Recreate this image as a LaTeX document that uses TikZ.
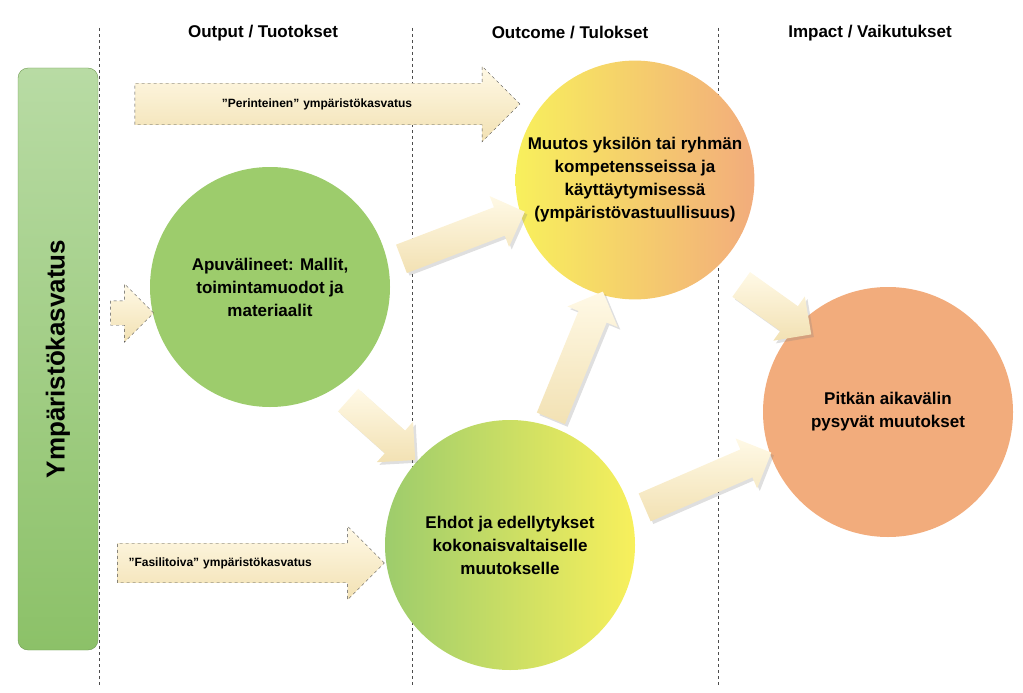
\documentclass[tikz,border=0pt]{standalone}
\usepackage{fontspec}
\setmainfont{Liberation Sans}
\usetikzlibrary{shapes.arrows,shadows}
\definecolor{barTop}{HTML}{B8DBA4}
\definecolor{barBot}{HTML}{8CC168}
\definecolor{creamA}{HTML}{FFF9E6}
\definecolor{creamB}{HTML}{F2E1B3}
\definecolor{leafGreen}{HTML}{9DCC6C}
\definecolor{sunYellow}{HTML}{F8F05C}
\definecolor{peach}{HTML}{F2AC7C}
\tikzset{
  header/.style={font=\bfseries\fontsize{17}{19}\selectfont},
  bubble/.style={circle, align=center, font=\bfseries\fontsize{17}{23}\selectfont},
  fatarrow/.style={single arrow, single arrow head extend=12pt, inner xsep=0pt, inner ysep=15pt,
    top color=creamA, bottom color=creamB, draw=none, drop shadow={opacity=0.25}},
  dasharrow/.style={single arrow, draw=black!70, dashed, single arrow head extend=17pt,
    top color=creamA, bottom color=creamB, inner ysep=14pt, font=\bfseries\fontsize{12}{14}\selectfont},
  divider/.style={dashed, black!70}
}
\begin{document}
\begin{tikzpicture}[x=1pt,y=-1pt]
\useasboundingbox (0,0) rectangle (1023,693);

% Dividers
\foreach \xpos in {99,412,718}
{
\draw[divider] (\xpos,28) -- (\xpos,686);
}

% Headers
\node[header] (hOut) at (263,33) {Output / Tuotokset};
\node[header] (hOutc) at (570,33) {Outcome / Tulokset};
\node[header] (hImp) at (870,33) {Impact / Vaikutukset};

% Left bar
\node[draw=barBot!80!black, rounded corners=10pt, minimum width=80pt, minimum height=582pt,
  top color=barTop, bottom color=barBot] (bar) at (58,359) {};
\node[rotate=90, font=\bfseries\fontsize{26}{28}\selectfont] (barText) at (bar.center) {Ympäristökasvatus};

% Circles
\node[bubble, minimum size=240pt, fill=leafGreen] (tools) at (270,287)
  {Apuvälineet: Mallit,\\ toimintamuodot ja\\ materiaalit};
\node[bubble, minimum size=230pt, left color=sunYellow, right color=peach] (change) at (635,180)
  {Muutos yksilön tai ryhmän\\ kompetensseissa ja\\ käyttäytymisessä\\ (ympäristövastuullisuus)};
\node[bubble, minimum size=250pt, left color=leafGreen, right color=sunYellow] (cond) at (510,545)
  {Ehdot ja edellytykset\\ kokonaisvaltaiselle\\ muutokselle};
\node[bubble, minimum size=250pt, fill=peach] (lasting) at (888,412)
  {Pitkän aikavälin\\ pysyvät muutokset};

% Dashed arrows
\node[dasharrow, minimum height=385pt, text width=340pt, align=center, inner ysep=15pt] (trad) at (317,104)
  {”Perinteinen” ympäristökasvatus};
\node[dasharrow, minimum height=267pt, text width=225pt, align=left] (facil) at (241,563)
  {”Fasilitoiva” ympäristökasvatus};
\node[dasharrow, minimum height=43pt, inner ysep=12pt, inner xsep=0pt] (small) at (126,313) {};

% Fat arrows
\node[fatarrow, minimum height=132pt, rotate=20.9] (a1) at (456,238) {};
\node[fatarrow, minimum height=90pt, rotate=-41.8] (a2) at (376,425) {};
\node[fatarrow, minimum height=137pt, rotate=67.7] (a3) at (574,362) {};
\node[fatarrow, minimum height=86pt, rotate=-35.5] (a4) at (770,305) {};
\node[fatarrow, minimum height=138pt, rotate=23.4] (a5) at (701,483) {};

\end{tikzpicture}
\end{document}
